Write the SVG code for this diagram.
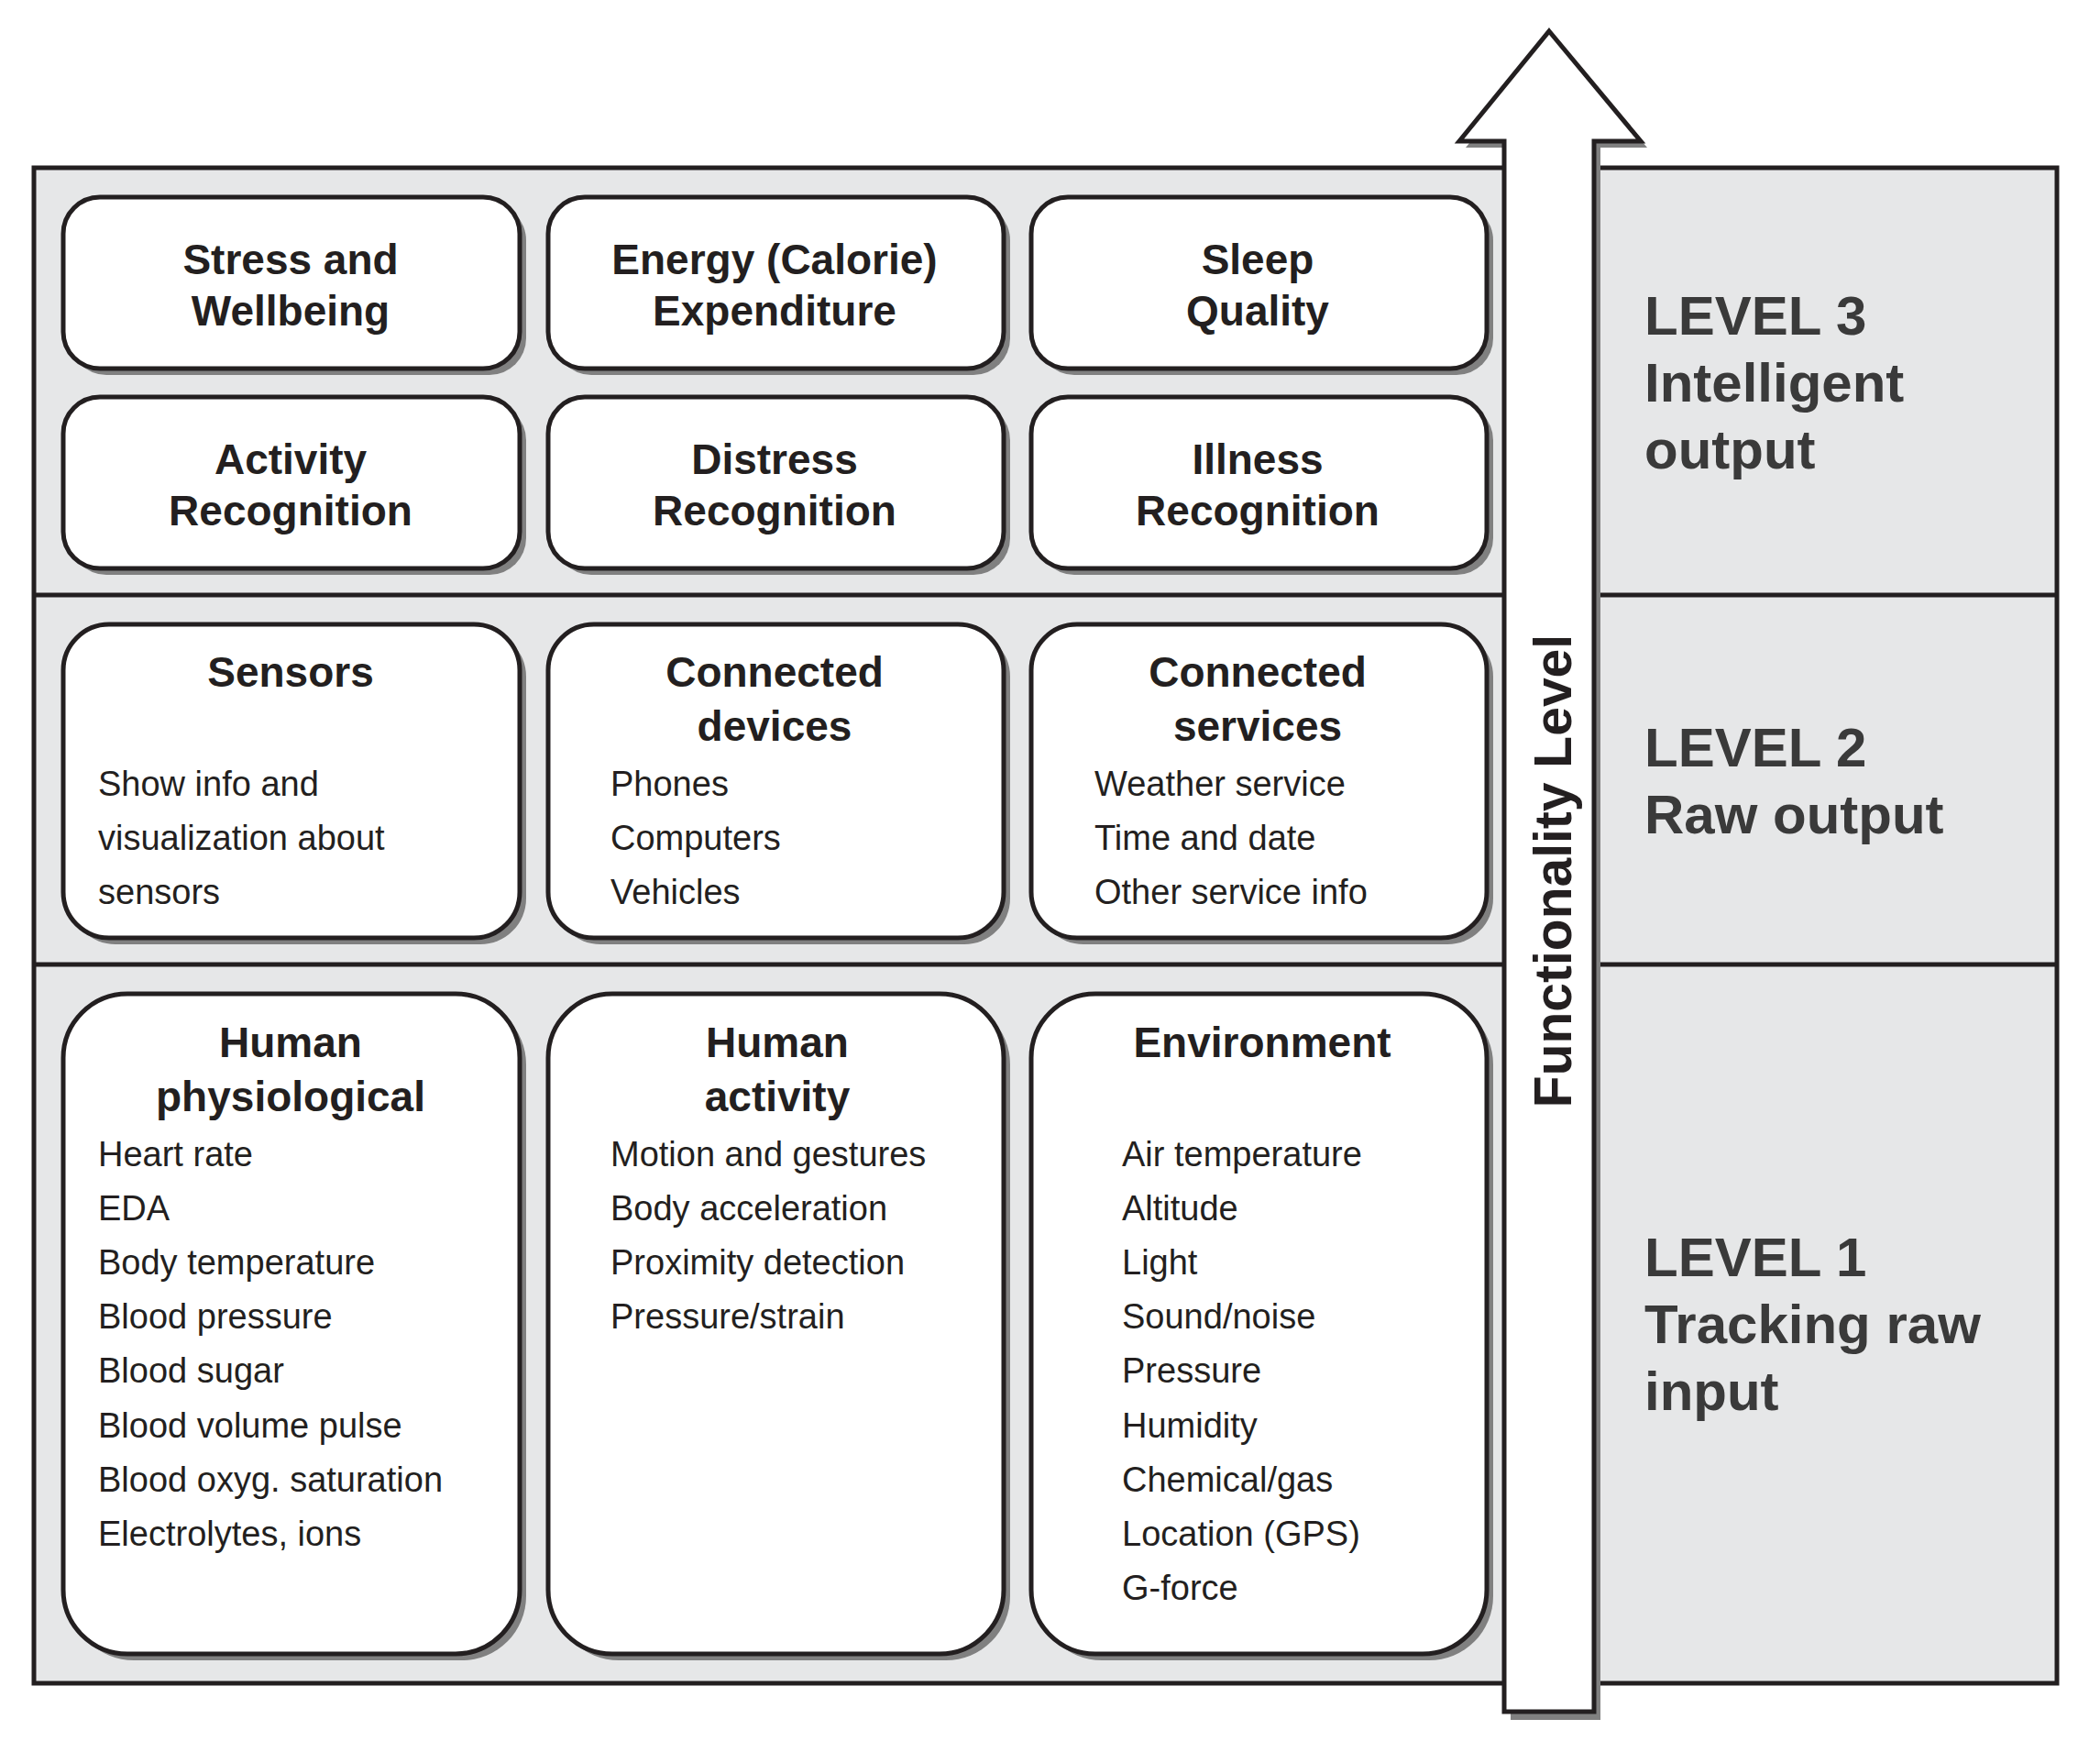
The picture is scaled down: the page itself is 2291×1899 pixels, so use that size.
<svg xmlns="http://www.w3.org/2000/svg" width="2291" height="1899" viewBox="0 0 2291 1899">
<style>
.bx{fill:#fff;stroke:#231f20;stroke-width:5}
.sh{fill:#808080}
.t{font-family:"Liberation Sans",Arial,sans-serif;font-weight:bold;font-size:46px;fill:#231f20;text-anchor:middle}
.b{font-family:"Liberation Sans",Arial,sans-serif;font-size:38px;fill:#231f20}
.l{font-family:"Liberation Sans",Arial,sans-serif;font-weight:bold;font-size:60px;fill:#3a3a3a}
</style>
<rect width="2291" height="1899" fill="#fff"/>
<g id="panel">
<rect x="37" y="183" width="2207" height="1653" fill="#e6e7e8" stroke="#231f20" stroke-width="5"/>
<line x1="37" y1="649" x2="2244" y2="649" stroke="#231f20" stroke-width="5"/>
<line x1="37" y1="1052" x2="2244" y2="1052" stroke="#231f20" stroke-width="5"/>
</g>
<g id="l3">
<rect class="sh" x="76" y="222" width="498" height="187" rx="40"/><rect class="bx" x="69" y="215" width="498" height="187" rx="40"/>
<rect class="sh" x="605" y="222" width="497" height="187" rx="40"/><rect class="bx" x="598" y="215" width="497" height="187" rx="40"/>
<rect class="sh" x="1132" y="222" width="497" height="187" rx="40"/><rect class="bx" x="1125" y="215" width="497" height="187" rx="40"/>
<rect class="sh" x="76" y="440" width="498" height="187" rx="40"/><rect class="bx" x="69" y="433" width="498" height="187" rx="40"/>
<rect class="sh" x="605" y="440" width="497" height="187" rx="40"/><rect class="bx" x="598" y="433" width="497" height="187" rx="40"/>
<rect class="sh" x="1132" y="440" width="497" height="187" rx="40"/><rect class="bx" x="1125" y="433" width="497" height="187" rx="40"/>
<text class="t" x="317" y="299">Stress and</text><text class="t" x="317" y="355">Wellbeing</text>
<text class="t" x="845" y="299">Energy (Calorie)</text><text class="t" x="845" y="355">Expenditure</text>
<text class="t" x="1372" y="299">Sleep</text><text class="t" x="1372" y="355">Quality</text>
<text class="t" x="317" y="517">Activity</text><text class="t" x="317" y="573">Recognition</text>
<text class="t" x="845" y="517">Distress</text><text class="t" x="845" y="573">Recognition</text>
<text class="t" x="1372" y="517">Illness</text><text class="t" x="1372" y="573">Recognition</text>
</g>
<g id="l2">
<rect class="sh" x="76" y="688" width="498" height="342" rx="50"/><rect class="bx" x="69" y="681" width="498" height="342" rx="50"/>
<rect class="sh" x="605" y="688" width="497" height="342" rx="50"/><rect class="bx" x="598" y="681" width="497" height="342" rx="50"/>
<rect class="sh" x="1132" y="688" width="497" height="342" rx="50"/><rect class="bx" x="1125" y="681" width="497" height="342" rx="50"/>
<text class="t" x="317" y="749">Sensors</text>
<text class="b" x="107" y="868">Show info and</text><text class="b" x="107" y="927">visualization about</text><text class="b" x="107" y="986">sensors</text>
<text class="t" x="845" y="749">Connected</text><text class="t" x="845" y="808">devices</text>
<text class="b" x="666" y="868">Phones</text><text class="b" x="666" y="927">Computers</text><text class="b" x="666" y="986">Vehicles</text>
<text class="t" x="1372" y="749">Connected</text><text class="t" x="1372" y="808">services</text>
<text class="b" x="1194" y="868">Weather service</text><text class="b" x="1194" y="927">Time and date</text><text class="b" x="1194" y="986">Other service info</text>
</g>
<g id="l1">
<rect class="sh" x="76" y="1091" width="498" height="720" rx="70"/><rect class="bx" x="69" y="1084" width="498" height="720" rx="70"/>
<rect class="sh" x="605" y="1091" width="497" height="720" rx="70"/><rect class="bx" x="598" y="1084" width="497" height="720" rx="70"/>
<rect class="sh" x="1132" y="1091" width="497" height="720" rx="70"/><rect class="bx" x="1125" y="1084" width="497" height="720" rx="70"/>
<text class="t" x="317" y="1153">Human</text><text class="t" x="317" y="1212">physiological</text>
<text class="b" x="107"><tspan x="107" y="1272">Heart rate</tspan><tspan x="107" y="1331">EDA</tspan><tspan x="107" y="1390">Body temperature</tspan><tspan x="107" y="1449">Blood pressure</tspan><tspan x="107" y="1508">Blood sugar</tspan><tspan x="107" y="1568">Blood volume pulse</tspan><tspan x="107" y="1627">Blood oxyg. saturation</tspan><tspan x="107" y="1686">Electrolytes, ions</tspan></text>
<text class="t" x="848" y="1153">Human</text><text class="t" x="848" y="1212">activity</text>
<text class="b" x="666"><tspan x="666" y="1272">Motion and gestures</tspan><tspan x="666" y="1331">Body acceleration</tspan><tspan x="666" y="1390">Proximity detection</tspan><tspan x="666" y="1449">Pressure/strain</tspan></text>
<text class="t" x="1377" y="1153">Environment</text>
<text class="b" x="1224"><tspan x="1224" y="1272">Air temperature</tspan><tspan x="1224" y="1331">Altitude</tspan><tspan x="1224" y="1390">Light</tspan><tspan x="1224" y="1449">Sound/noise</tspan><tspan x="1224" y="1508">Pressure</tspan><tspan x="1224" y="1568">Humidity</tspan><tspan x="1224" y="1627">Chemical/gas</tspan><tspan x="1224" y="1686">Location (GPS)</tspan><tspan x="1224" y="1745">G-force</tspan></text>
</g>
<g id="arrow">
<polygon points="1697,41 1797,161 1746,161 1746,1876 1648,1876 1648,161 1599,161" fill="#808080"/>
<polygon points="1690,34 1790,154 1739,154 1739,1867 1641,1867 1641,154 1592,154" fill="#fff" stroke="#231f20" stroke-width="5"/>
<text class="l" transform="translate(1714,950) rotate(-90)" text-anchor="middle" style="font-size:57px;fill:#231f20">Functionality Level</text>
</g>
<g id="labels">
<text class="l" x="1794" y="365">LEVEL 3</text><text class="l" x="1794" y="438">Intelligent</text><text class="l" x="1794" y="511">output</text>
<text class="l" x="1794" y="836">LEVEL 2</text><text class="l" x="1794" y="909">Raw output</text>
<text class="l" x="1794" y="1392">LEVEL 1</text><text class="l" x="1794" y="1465">Tracking raw</text><text class="l" x="1794" y="1538">input</text>
</g>
</svg>
